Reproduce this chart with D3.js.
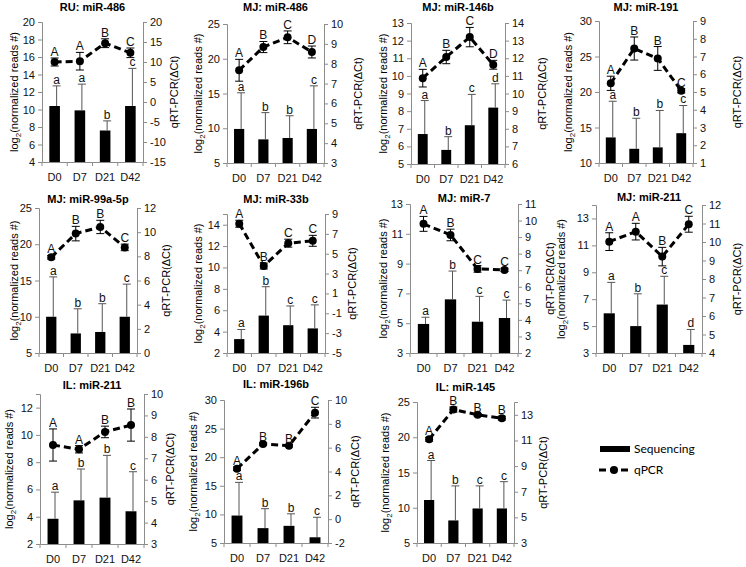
<!DOCTYPE html>
<html lang="en">
<head>
<meta charset="UTF-8">
<title>miRNA sequencing vs qPCR</title>
<script src="https://d3js.org/d3.v7.min.js"></script>
<style>
  body { margin: 0; background: #fff; }
  svg { font-family: "Liberation Sans", Arial, sans-serif; }
  .axis path, .axis line { stroke: #8c8c8c; }
  .axis text { fill: #111; font-size: 11px; font-family: "Liberation Sans", Arial, sans-serif; }
</style>
</head>
<body>
<svg width="746" height="567"></svg>
<script>
// ---- data ----
const days = ["D0", "D7", "D21", "D42"];
const titles = ["RU: miR-486", "MJ: miR-486", "MJ: miR-146b", "MJ: miR-191",
                "MJ: miR-99a-5p", "MJ: miR-33b", "MJ: miR-7", "MJ: miR-211",
                "IL: miR-211", "IL: miR-196b", "IL: miR-145"];

// sequencing (bars, left axis): mean and upper error
const seqMean = [
  [10.4, 9.9, 7.6, 10.4],
  [9.9, 8.4, 8.6, 9.9],
  [6.7, 5.8, 7.2, 8.2],
  [13.6, 12.0, 12.2, 14.2],
  [10.0, 7.7, 7.9, 10.0],
  [3.3, 5.5, 4.6, 4.3],
  [4.95, 6.6, 5.1, 5.35],
  [5.95, 5.0, 6.6, 3.6],
  [3.85, 5.2, 5.4, 4.4],
  [9.8, 7.6, 8.0, 6.0],
  [11.1, 8.2, 9.9, 9.9]
];
const seqErr = [
  [2.3, 3.0, 1.1, 4.3],
  [5.2, 3.85, 3.2, 6.2],
  [1.9, 0.75, 1.75, 1.35],
  [5.1, 4.3, 5.2, 3.9],
  [5.5, 3.4, 3.9, 4.5],
  [0.9, 2.7, 1.8, 2.2],
  [0.45, 1.9, 1.7, 1.2],
  [2.3, 2.4, 2.1, 1.15],
  [1.95, 2.3, 3.1, 2.9],
  [5.8, 3.4, 2.1, 3.5],
  [5.6, 4.9, 3.2, 3.8]
];
const seqLetters = ["aabc", "abbc", "abcd", "abbc", "abbc", "abcc", "abcc", "abcd", "abbc", "abbc", "abcc"];

// qPCR (dashed line, right axis): mean and error
const qMean = [
  [10.0, 10.2, 14.7, 12.3],
  [7.67, 8.84, 9.33, 8.59],
  [10.87, 12.07, 13.2, 11.63],
  [5.49, 7.45, 6.89, 5.07],
  [7.92, 9.88, 10.43, 8.74],
  [8.02, 3.76, 6.06, 6.3],
  [9.8, 9.13, 7.08, 7.02],
  [10.02, 10.56, 9.21, 10.96],
  [7.62, 7.42, 8.23, 8.55],
  [4.23, 6.3, 6.16, 8.94],
  [11.09, 13.41, 13.0, 12.74]
];
const qErr = [
  [1.0, 2.2, 1.1, 1.2],
  [0.55, 0.28, 0.32, 0.3],
  [0.5, 0.38, 0.55, 0.25],
  [0.4, 0.65, 0.67, 0.12],
  [0.15, 0.6, 0.55, 0.27],
  [0.35, 0.3, 0.4, 0.55],
  [0.45, 0.35, 0.2, 0.1],
  [0.48, 0.45, 0.5, 0.43],
  [0.75, 0.17, 0.27, 0.75],
  [0.15, 0.1, 0.1, 0.45],
  [0.15, 0.2, 0.1, 0.15]
];
const qLetters = ["AABC", "ABCD", "ABCD", "ABBC", "ABBC", "ABCC", "ABCC", "AABC", "AABB", "ABBC", "ABBB"];

const leftDomain = [[4, 20], [5, 25], [5, 13], [10, 30], [5, 25], [2, 15], [3, 13], [3, 14], [2, 13], [5, 30], [5, 25]];
const leftStep = [2, 5, 1, 5, 5, 2, 2, 2, 2, 5, 5];
const rightDomain = [[-15, 20], [3, 10], [6, 14], [1, 9], [0, 12], [-5, 9], [2, 11], [4, 12], [3, 10], [-2, 10], [3, 14]];
const rightStep = [5, 1, 1, 1, 2, 2, 1, 1, 1, 2, 2];

// ---- layout (plot box, title y, axis title offsets) ----
const boxes = [
  {l: 42, t: 22, r: 143, b: 162, ty: 11, lo: 28, ro: 31},
  {l: 227, t: 24, r: 324, b: 163, ty: 11, lo: 29, ro: 34},
  {l: 411, t: 23, r: 505, b: 164, ty: 11, lo: 28, ro: 37},
  {l: 599, t: 21, r: 693, b: 163, ty: 11, lo: 31, ro: 44},
  {l: 39, t: 208, r: 137, b: 353, ty: 203, lo: 25, ro: 29},
  {l: 227, t: 214, r: 325, b: 353, ty: 203, lo: 29, ro: 27},
  {l: 410, t: 204, r: 518, b: 353, ty: 202, lo: 27, ro: 32},
  {l: 596, t: 205, r: 702, b: 353, ty: 201, lo: 35, ro: 35},
  {l: 40, t: 394, r: 144, b: 544, ty: 389, lo: 31, ro: 26},
  {l: 224, t: 400, r: 328, b: 543, ty: 388, lo: 31, ro: 27},
  {l: 417, t: 402, r: 514, b: 543, ty: 391, lo: 32, ro: 29}
];

const svg = d3.select("svg");
const fmt = d => String(d);

titles.forEach(function (title, i) {
  const b = boxes[i];
  const g = svg.append("g");

  const x = d3.scaleBand().domain(days).range([b.l, b.r]);
  const yL = d3.scaleLinear().domain(leftDomain[i]).range([b.b, b.t]);
  const yR = d3.scaleLinear().domain(rightDomain[i]).range([b.b, b.t]);
  const ticksL = d3.range(leftDomain[i][0], leftDomain[i][1] + 1e-9, leftStep[i]);
  const ticksR = d3.range(rightDomain[i][0], rightDomain[i][1] + 1e-9, rightStep[i]);

  // axes
  g.append("g").attr("class", "axis")
    .attr("transform", "translate(" + b.l + ",0)")
    .call(d3.axisLeft(yL).tickValues(ticksL).tickFormat(fmt).tickSizeOuter(0).tickSize(4).tickPadding(3));
  g.append("g").attr("class", "axis")
    .attr("transform", "translate(" + b.r + ",0)")
    .call(d3.axisRight(yR).tickValues(ticksR).tickFormat(fmt).tickSizeOuter(0).tickSize(4).tickPadding(3));
  g.append("g").attr("class", "axis")
    .attr("transform", "translate(0," + b.b + ")")
    .call(d3.axisBottom(x).tickSize(0).tickPadding(11));
  d3.range(days.length + 1).forEach(function (k) {
    const xx = b.l + k * x.step();
    g.append("line").attr("x1", xx).attr("x2", xx)
      .attr("y1", b.b).attr("y2", b.b + 4).attr("stroke", "#8c8c8c");
  });

  // bars
  const bw = x.bandwidth() * 0.42;
  g.selectAll("rect.bar").data(days).enter().append("rect")
    .attr("x", d => x(d) + x.bandwidth() / 2 - bw / 2)
    .attr("width", bw)
    .attr("y", (d, j) => yL(seqMean[i][j]))
    .attr("height", (d, j) => b.b - yL(seqMean[i][j]))
    .attr("fill", "#000");

  // bar error bars (upper only)
  days.forEach(function (d, j) {
    const cx = x(d) + x.bandwidth() / 2 + 2;
    const y0 = yL(seqMean[i][j]), y1 = yL(seqMean[i][j] + seqErr[i][j]);
    g.append("line").attr("x1", cx).attr("x2", cx).attr("y1", y0).attr("y2", y1)
      .attr("stroke", "#555").attr("stroke-width", 1);
    g.append("line").attr("x1", cx - 4).attr("x2", cx + 4).attr("y1", y1).attr("y2", y1)
      .attr("stroke", "#555").attr("stroke-width", 1);
    g.append("text").attr("x", cx).attr("y", y1 - 2)
      .attr("text-anchor", "middle").attr("font-size", 12).attr("fill", "#111")
      .text(seqLetters[i][j]);
  });

  // qPCR line
  const line = d3.line()
    .x((d, j) => x(days[j]) + x.bandwidth() / 2)
    .y(d => yR(d));
  g.append("path").datum(qMean[i]).attr("d", line)
    .attr("fill", "none").attr("stroke", "#000")
    .attr("stroke-width", 3).attr("stroke-dasharray", "7,4");

  days.forEach(function (d, j) {
    const cx = x(d) + x.bandwidth() / 2;
    const yt = yR(qMean[i][j] + qErr[i][j]), yb = yR(qMean[i][j] - qErr[i][j]);
    g.append("line").attr("x1", cx).attr("x2", cx).attr("y1", yt).attr("y2", yb)
      .attr("stroke", "#000").attr("stroke-width", 1);
    [yt, yb].forEach(function (yy) {
      g.append("line").attr("x1", cx - 4).attr("x2", cx + 4).attr("y1", yy).attr("y2", yy)
        .attr("stroke", "#000").attr("stroke-width", 1);
    });
    g.append("circle").attr("cx", cx).attr("cy", yR(qMean[i][j])).attr("r", 4).attr("fill", "#000");
    g.append("text").attr("x", cx).attr("y", yt - 2)
      .attr("text-anchor", "middle").attr("font-size", 12).attr("fill", "#111")
      .text(qLetters[i][j]);
  });

  // titles
  g.append("text").attr("x", (b.l + b.r) / 2).attr("y", b.ty)
    .attr("text-anchor", "middle").attr("font-size", 11).attr("font-weight", "bold")
    .text(title);

  const cy = (b.t + b.b) / 2;
  const lt = g.append("text")
    .attr("transform", "translate(" + (b.l - b.lo) + "," + cy + ") rotate(-90)")
    .attr("text-anchor", "middle").attr("dy", "0.35em").attr("font-size", 11);
  lt.append("tspan").text("log");
  lt.append("tspan").attr("font-size", 8).attr("dy", 3).text("2");
  lt.append("tspan").attr("dy", -3).text("(normalized reads #)");

  g.append("text")
    .attr("transform", "translate(" + (b.r + b.ro) + "," + cy + ") rotate(-90)")
    .attr("text-anchor", "middle").attr("dy", "0.35em").attr("font-size", 11)
    .text("qRT-PCR(ΔCt)");
});

// legend
const leg = svg.append("g").attr("font-family", "Lato, 'Open Sans', sans-serif").attr("font-size", 12);
leg.append("rect").attr("x", 600).attr("y", 446).attr("width", 30).attr("height", 6).attr("fill", "#000");
leg.append("text").attr("x", 634).attr("y", 449).attr("dy", "0.35em").text("Sequencing");
leg.append("line").attr("x1", 599).attr("x2", 628).attr("y1", 470).attr("y2", 470)
  .attr("stroke", "#000").attr("stroke-width", 3).attr("stroke-dasharray", "7,4");
leg.append("circle").attr("cx", 614).attr("cy", 470).attr("r", 4).attr("fill", "#000");
leg.append("text").attr("x", 634).attr("y", 470).attr("dy", "0.35em").text("qPCR");
</script>
</body>
</html>
